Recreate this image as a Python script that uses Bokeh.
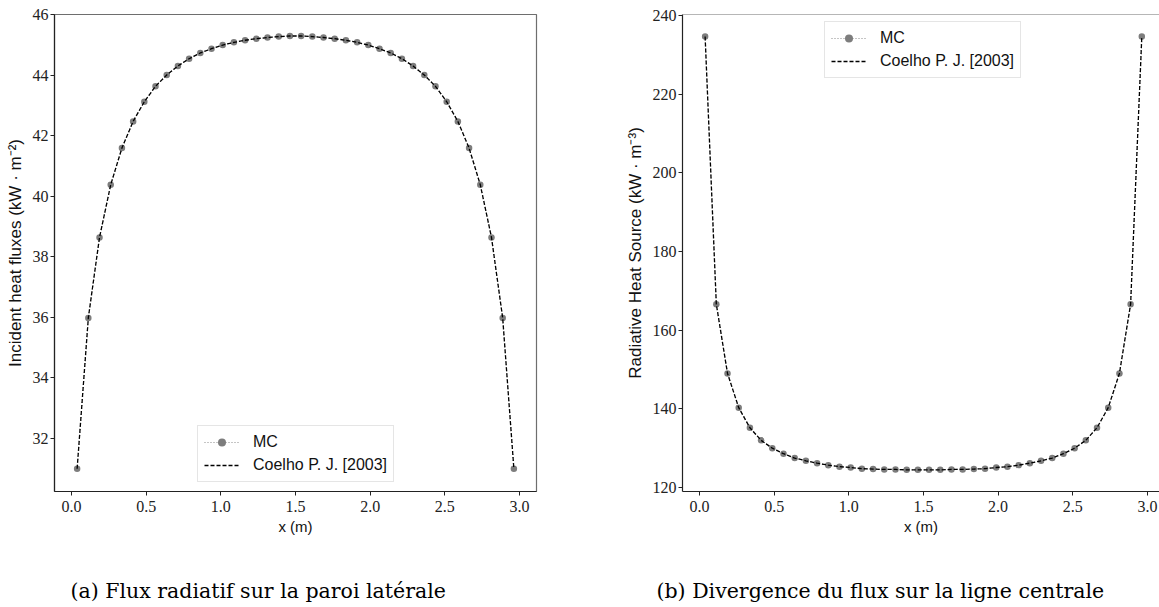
from bokeh.plotting import figure
from bokeh.models import (Range1d, FixedTicker, Legend, LegendItem, Span,
                          NumeralTickFormatter)
from bokeh.core.properties import value
from bokeh.layouts import row, column
from bokeh.embed import file_html
from bokeh.resources import INLINE

# ---------------- data ----------------
x_pos = [0.0375, 0.1125, 0.1875, 0.2625, 0.3375, 0.4125, 0.4875, 0.5625, 0.6375, 0.7125,
         0.7875, 0.8625, 0.9375, 1.0125, 1.0875, 1.1625, 1.2375, 1.3125, 1.3875, 1.4625,
         1.5375, 1.6125, 1.6875, 1.7625, 1.8375, 1.9125, 1.9875, 2.0625, 2.1375, 2.2125,
         2.2875, 2.3625, 2.4375, 2.5125, 2.5875, 2.6625, 2.7375, 2.8125, 2.8875, 2.9625]

flux_mc = [31.00, 35.98, 38.64, 40.38, 41.59, 42.47, 43.12, 43.63, 44.00, 44.30,
           44.54, 44.73, 44.87, 44.99, 45.08, 45.15, 45.20, 45.24, 45.27, 45.29,
           45.29, 45.27, 45.24, 45.20, 45.15, 45.08, 44.99, 44.87, 44.73, 44.54,
           44.30, 44.00, 43.63, 43.12, 42.47, 41.59, 40.38, 38.64, 35.98, 31.00]
flux_coelho = [31.00, 35.98, 38.64, 40.38, 41.59, 42.47, 43.12, 43.63, 44.00, 44.30,
               44.54, 44.73, 44.87, 44.99, 45.08, 45.15, 45.20, 45.24, 45.27, 45.29,
               45.29, 45.27, 45.24, 45.20, 45.15, 45.08, 44.99, 44.87, 44.73, 44.54,
               44.30, 44.00, 43.63, 43.12, 42.47, 41.59, 40.38, 38.64, 35.98, 31.00]

div_mc = [234.6, 166.6, 149.0, 140.3, 135.2, 132.0, 130.0, 128.6, 127.5, 126.8,
          126.2, 125.7, 125.3, 125.1, 124.8, 124.7, 124.6, 124.6, 124.5, 124.5,
          124.5, 124.5, 124.6, 124.6, 124.7, 124.8, 125.1, 125.3, 125.7, 126.2,
          126.8, 127.5, 128.6, 130.0, 132.0, 135.2, 140.3, 149.0, 166.6, 234.6]
div_coelho = [234.6, 166.6, 149.0, 140.3, 135.2, 132.0, 130.0, 128.6, 127.5, 126.8,
              126.2, 125.7, 125.3, 125.1, 124.8, 124.7, 124.6, 124.6, 124.5, 124.5,
              124.5, 124.5, 124.6, 124.6, 124.7, 124.8, 125.1, 125.3, 125.7, 126.2,
              126.8, 127.5, 128.6, 130.0, 132.0, 135.2, 140.3, 149.0, 166.6, 234.6]

x_ticks = [0.0, 0.5, 1.0, 1.5, 2.0, 2.5, 3.0]
flux_ticks = [32, 34, 36, 38, 40, 42, 44, 46]
div_ticks = [120, 140, 160, 180, 200, 220, 240]

legend_labels = ["MC", "Coelho P. J. [2003]"]
x_label = "x (m)"
flux_label = "Incident heat fluxes (kW \u00b7 m\u207b\u00b2)"
div_label = "Radiative Heat Source (kW \u00b7 m\u207b\u00b3)"
captions = ["(a) Flux radiatif sur la paroi lat\u00e9rale",
            "(b) Divergence du flux sur la ligne centrale"]

SANS = "Liberation Sans"
SERIF = "Liberation Serif"
TOP_H = 560


def make_fig(width, border_left, border_right, xr, yr, yticks, ylabel, y_mc, y_ref,
             legend_loc, outline=True):
    p = figure(width=width, height=TOP_H, x_range=Range1d(*xr), y_range=Range1d(*yr),
               output_backend="svg", toolbar_location=None,
               min_border_left=border_left, min_border_right=border_right,
               min_border_top=14, min_border_bottom=TOP_H - 491)
    p.grid.visible = False
    p.background_fill_color = "white"
    p.border_fill_color = "white"
    if outline:
        p.outline_line_color = "#6e6e6e"
        p.outline_line_width = 1.2
    else:
        p.outline_line_color = None
        p.add_layout(Span(location=yr[1], dimension="width", line_color="#6e6e6e",
                          line_width=1.2))

    for ax in (p.xaxis[0], p.yaxis[0]):
        ax.major_label_text_font = SERIF
        ax.major_label_text_font_size = "16px"
        ax.major_label_text_color = "#222222"
        ax.axis_label_text_font = SANS
        ax.axis_label_text_font_size = "17px"
        ax.axis_label_text_font_style = "normal"
        ax.axis_label_text_color = "#111111"
        ax.minor_tick_line_color = None
        ax.major_tick_in = 0
        ax.major_tick_out = 4
        ax.major_tick_line_color = "#222222"
        ax.axis_line_color = "#222222"
        ax.axis_line_width = 1.2
    p.xaxis[0].ticker = FixedTicker(ticks=x_ticks)
    p.xaxis[0].formatter = NumeralTickFormatter(format="0.0")
    p.xaxis[0].axis_label = x_label
    p.xaxis[0].axis_label_text_font_size = "15px"
    p.xaxis[0].major_label_standoff = 5
    p.xaxis[0].axis_label_standoff = 3
    p.yaxis[0].ticker = FixedTicker(ticks=yticks)
    p.yaxis[0].axis_label = ylabel
    p.yaxis[0].major_label_standoff = 2
    p.yaxis[0].axis_label_standoff = 5

    l_mc = p.line(x_pos, y_mc, line_color="#8c8c8c", line_width=1.2, line_dash="1 2")
    s_mc = p.scatter(x_pos, y_mc, size=6.5, fill_color="#7d7d7d", line_color=None)
    l_ref = p.line(x_pos, y_ref, line_color="black", line_width=1.3, line_dash="4 2")

    legend = Legend(items=[LegendItem(label=legend_labels[0], renderers=[l_mc, s_mc]),
                           LegendItem(label=legend_labels[1], renderers=[l_ref])],
                    location=legend_loc)
    legend.label_text_font = SANS
    legend.label_text_font_size = "16px"
    legend.label_text_color = "#111111"
    legend.glyph_width = 35
    legend.glyph_height = 20
    legend.label_height = 20
    legend.label_standoff = 14
    legend.padding = 6
    legend.spacing = 3
    legend.margin = 0
    legend.border_line_color = "#cccccc"
    legend.border_line_width = 1
    legend.background_fill_color = "white"
    legend.background_fill_alpha = 0.85
    p.add_layout(legend)
    return p


p1 = make_fig(600, 54, 64, (-0.114, 3.114), (30.25, 46.0), flux_ticks, flux_label,
              flux_mc, flux_coelho, (143, 9))
p2 = make_fig(559, 82, 0, (-0.114, 3.081), (119.0, 240.2), div_ticks, div_label,
              div_mc, div_coelho, (142, 413), outline=False)

# caption strip (screen-like coordinates: x in px from left, y in px from bottom)
cap = figure(width=1159, height=47, x_range=Range1d(0, 1159), y_range=Range1d(0, 47),
             output_backend="svg", toolbar_location=None,
             min_border_left=0, min_border_right=0, min_border_top=0, min_border_bottom=0)
cap.axis.visible = False
cap.grid.visible = False
cap.outline_line_color = None
cap.text(x=[70, 656], y=[17, 17], text=captions, text_font=value("DejaVu Serif"),
         text_font_size="20.5px", text_color="black", text_baseline="middle",
         text_align="left")

layout = column(row(p1, p2), cap)
open("out.html", "w").write(file_html(layout, INLINE))
